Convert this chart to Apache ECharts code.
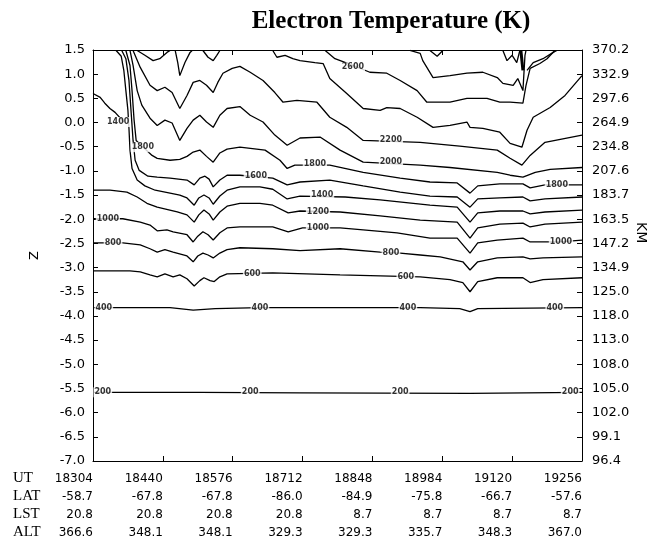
<!DOCTYPE html>
<html><head><meta charset="utf-8">
<script src="https://cdn.jsdelivr.net/npm/echarts@6/dist/echarts.min.js"></script>
<style>html,body{margin:0;padding:0;background:#fff}#c{width:648px;height:554px}</style>
</head><body><div id="c"></div>
<script>
// ---- tick labels / table ----
const utLabels  = ['18304','18440','18576','18712','18848','18984','19120','19256'];
const latLabels = ['-58.7','-67.8','-67.8','-86.0','-84.9','-75.8','-66.7','-57.6'];
const lstLabels = ['20.8','20.8','20.8','20.8','8.7','8.7','8.7','8.7'];
const altLabels = ['366.6','348.1','348.1','329.3','329.3','335.7','348.3','367.0'];
const rowHeads  = ['UT','LAT','LST','ALT'];
const kmLabels  = ['370.2','332.9','297.6','264.9','234.8','207.6','183.7','163.5','147.2','134.9','125.0','118.0','113.0','108.0','105.0','102.0','99.1','96.4'];

// ---- contour lines: [UT, Z] ----
const c200  = [[18304,-5.58],[18512,-5.58],[18707,-5.59],[19038,-5.60],[19256,-5.58]];
const c400  = [[18304,-3.83],[18454,-3.83],[18499,-3.88],[18542,-3.85],[18629,-3.83],[18941,-3.83],[19018,-3.85],[19038,-3.91],[19053,-3.85],[19256,-3.83]];
const c600  = [[18304,-3.07],[18376,-3.07],[18396,-3.09],[18415,-3.15],[18429,-3.19],[18444,-3.13],[18460,-3.19],[18473,-3.15],[18487,-3.23],[18501,-3.38],[18512,-3.27],[18520,-3.21],[18532,-3.27],[18540,-3.29],[18551,-3.19],[18565,-3.13],[18654,-3.11],[18785,-3.15],[18863,-3.17],[18941,-3.19],[18999,-3.25],[19024,-3.31],[19038,-3.50],[19053,-3.29],[19091,-3.21],[19141,-3.21],[19155,-3.31],[19180,-3.25],[19256,-3.21]];
const c800  = [[18304,-2.49],[18362,-2.49],[18396,-2.53],[18415,-2.61],[18429,-2.68],[18444,-2.63],[18460,-2.68],[18487,-2.76],[18499,-2.88],[18508,-2.76],[18518,-2.70],[18528,-2.74],[18538,-2.80],[18551,-2.70],[18565,-2.63],[18590,-2.59],[18654,-2.61],[18707,-2.65],[18785,-2.61],[18863,-2.68],[18902,-2.70],[18941,-2.74],[18980,-2.78],[19024,-2.88],[19038,-3.05],[19053,-2.88],[19091,-2.80],[19141,-2.78],[19155,-2.82],[19180,-2.80],[19256,-2.78]];
const c1000 = [[18304,-1.99],[18362,-1.99],[18396,-2.06],[18415,-2.12],[18429,-2.24],[18448,-2.22],[18460,-2.26],[18487,-2.32],[18499,-2.47],[18508,-2.35],[18518,-2.26],[18528,-2.32],[18538,-2.43],[18551,-2.28],[18565,-2.18],[18590,-2.16],[18654,-2.16],[18684,-2.26],[18712,-2.18],[18785,-2.18],[18830,-2.22],[18896,-2.28],[18960,-2.39],[19013,-2.39],[19038,-2.70],[19053,-2.49],[19091,-2.43],[19141,-2.39],[19155,-2.47],[19213,-2.47],[19256,-2.43]];
const c1200 = [[18304,-1.40],[18337,-1.40],[18370,-1.44],[18390,-1.54],[18409,-1.67],[18429,-1.75],[18468,-1.85],[18487,-1.91],[18501,-2.06],[18510,-1.91],[18520,-1.81],[18530,-1.89],[18538,-2.02],[18551,-1.85],[18565,-1.73],[18590,-1.67],[18629,-1.67],[18654,-1.71],[18684,-1.87],[18707,-1.83],[18785,-1.85],[18863,-1.93],[18941,-2.02],[19013,-2.06],[19038,-2.39],[19053,-2.18],[19096,-2.10],[19141,-2.08],[19155,-2.16],[19184,-2.10],[19256,-2.06]];
const c1400 = [[18349,1.49],[18359,1.37],[18364,1.08],[18368,0.66],[18372,0.25],[18374,-0.12],[18376,-0.57],[18380,-0.95],[18390,-1.19],[18405,-1.31],[18425,-1.40],[18454,-1.46],[18473,-1.50],[18487,-1.56],[18501,-1.71],[18510,-1.56],[18520,-1.50],[18530,-1.56],[18538,-1.69],[18551,-1.52],[18565,-1.40],[18590,-1.33],[18629,-1.33],[18654,-1.38],[18682,-1.58],[18707,-1.52],[18795,-1.54],[18863,-1.60],[18960,-1.71],[19013,-1.75],[19038,-2.06],[19053,-1.87],[19096,-1.83],[19141,-1.83],[19155,-1.89],[19184,-1.85],[19256,-1.81]];
const c1400b = [[18304,0.60],[18318,0.52],[18327,0.40],[18337,0.29],[18347,0.21],[18364,0.01]];
const c1600 = [[18360,1.49],[18368,1.32],[18374,0.87],[18378,0.25],[18382,-0.37],[18386,-0.78],[18394,-0.99],[18411,-1.11],[18429,-1.13],[18454,-1.15],[18487,-1.19],[18501,-1.29],[18512,-1.15],[18522,-1.11],[18530,-1.17],[18538,-1.33],[18551,-1.19],[18565,-1.09],[18590,-1.09],[18654,-1.15],[18682,-1.29],[18707,-1.23],[18765,-1.19],[18830,-1.31],[18902,-1.44],[18960,-1.52],[19013,-1.54],[19038,-1.75],[19053,-1.58],[19096,-1.56],[19141,-1.54],[19155,-1.62],[19184,-1.58],[19256,-1.54]];
const c1800 = [[18368,1.49],[18376,1.18],[18380,0.66],[18384,0.05],[18388,-0.37],[18419,-0.68],[18429,-0.74],[18454,-0.78],[18473,-0.76],[18487,-0.70],[18499,-0.61],[18512,-0.57],[18525,-0.70],[18538,-0.82],[18551,-0.63],[18565,-0.55],[18590,-0.51],[18639,-0.57],[18668,-0.78],[18682,-0.95],[18697,-0.88],[18765,-0.88],[18830,-1.03],[18902,-1.15],[18960,-1.23],[19013,-1.25],[19038,-1.46],[19053,-1.31],[19096,-1.27],[19141,-1.27],[19155,-1.35],[19184,-1.29],[19256,-1.29]];
const c2000 = [[18376,1.49],[18382,1.18],[18390,0.66],[18399,0.36],[18415,0.09],[18429,-0.06],[18444,0.05],[18458,-0.01],[18473,-0.37],[18487,-0.12],[18499,0.05],[18512,0.15],[18525,0.01],[18538,-0.10],[18551,0.15],[18565,0.29],[18590,0.33],[18610,0.15],[18635,0.01],[18658,-0.26],[18682,-0.47],[18707,-0.32],[18746,-0.30],[18785,-0.57],[18830,-0.82],[18941,-0.88],[18999,-0.93],[19091,-1.03],[19116,-1.09],[19141,-1.13],[19165,-1.03],[19194,-0.97],[19256,-0.93]];
const c2200 = [[18382,1.49],[18396,1.14],[18415,0.77],[18429,0.66],[18444,0.73],[18458,0.62],[18473,0.29],[18487,0.56],[18499,0.83],[18512,0.87],[18525,0.77],[18538,0.62],[18547,0.83],[18557,1.02],[18575,1.12],[18590,1.16],[18610,1.04],[18635,0.87],[18658,0.62],[18674,0.42],[18701,0.46],[18740,0.42],[18765,0.11],[18798,-0.10],[18830,-0.37],[18941,-0.41],[19018,-0.49],[19091,-0.57],[19116,-0.74],[19139,-0.88],[19155,-0.68],[19184,-0.41],[19256,-0.26]];
const c2400 = [[18654,1.49],[18662,1.35],[18678,1.39],[18693,1.32],[18707,1.28],[18736,1.24],[18752,1.22],[18765,0.91],[18798,0.60],[18830,0.29],[18863,0.25],[18876,0.31],[18902,0.29],[18935,0.11],[18966,-0.10],[18999,-0.06],[19032,0.01],[19038,-0.10],[19063,-0.12],[19096,-0.20],[19116,-0.43],[19139,-0.51],[19149,-0.16],[19161,0.11],[19194,0.31],[19223,0.56],[19256,0.97]];
const c2400b = [[18390,1.49],[18405,1.39],[18421,1.28],[18434,1.32],[18448,1.45],[18454,1.49]];
const c2400c = [[18464,1.49],[18469,1.24],[18473,0.97],[18483,1.24],[18493,1.45],[18497,1.49]];
const c2400d = [[18518,1.49],[18528,1.35],[18538,1.28],[18545,1.39],[18551,1.49]];
const c2600 = [[18756,1.49],[18775,1.32],[18810,1.18],[18843,1.04],[18876,1.02],[18902,0.87],[18935,0.66],[18954,0.42],[18999,0.42],[19032,0.50],[19071,0.50],[19096,0.42],[19116,0.42],[19141,0.40],[19147,0.77],[19155,1.12],[19174,1.22],[19188,1.32],[19203,1.49]];
const c2800 = [[18921,1.49],[18941,1.43],[18946,1.28],[18966,0.93],[18999,0.97],[19032,1.02],[19063,1.04],[19091,0.93],[19102,0.81],[19122,0.77],[19131,0.91],[19141,0.66],[19145,1.39],[19147,1.49]];
const c2800b = [[19149,1.08],[19161,1.24],[19180,1.32],[19200,1.45],[19207,1.49]];
const c3000a = [[18960,1.49],[18974,1.37],[18985,1.49]];
const c3000b = [[19102,1.49],[19110,1.28],[19120,1.39],[19129,1.24],[19135,1.49]];
const spike  = [[19137,1.49],[19141,1.08]];

// ---- contour labels: [UT, Z, text] ----
const contourLabels = [
  [18353,0.01,'1400'],[18401,-0.51,'1800'],[18621,-1.11,'1600'],[18736,-0.86,'1800'],
  [18750,-1.50,'1400'],[18742,-1.85,'1200'],[18742,-2.18,'1000'],[18333,-1.99,'1000'],
  [18343,-2.49,'800'],[18614,-3.13,'600'],[18884,-2.70,'800'],[18913,-3.19,'600'],
  [18325,-3.83,'400'],[18629,-3.83,'400'],[18917,-3.83,'400'],[19203,-3.83,'400'],
  [18323,-5.58,'200'],[18610,-5.58,'200'],[18902,-5.58,'200'],[19233,-5.58,'200'],
  [18810,1.14,'2600'],[18884,-0.37,'2200'],[18884,-0.82,'2000'],[19207,-1.29,'1800'],
  [19215,-2.47,'1000']
];

const curves = [c200,c400,c600,c800,c1000,c1200,c1400,c1400b,c1600,c1800,c2000,c2200,c2400,c2400b,c2400c,c2400d,c2600,c2800,c2800b,c3000a,c3000b];

const chart = echarts.init(document.getElementById('c'), null, {renderer:'canvas'});
const axFont = {fontFamily:'DejaVu Sans', fontSize:12, color:'#000'};
const series = curves.map(d => ({
  type:'line', data:d, showSymbol:false, symbol:'none', silent:true,
  lineStyle:{color:'#000', width:1.3}, animation:false, z:2
}));
series.push({type:'line', data:spike, showSymbol:false, symbol:'none', silent:true, lineStyle:{color:'#000', width:3}, animation:false, z:2});
series.push({
  type:'scatter', data:contourLabels, symbolSize:1, itemStyle:{color:'rgba(0,0,0,0)'}, silent:true, z:10, animation:false,
  label:{show:true, position:'inside', formatter:p=>p.data[2], fontFamily:'DejaVu Sans', fontWeight:'bold', fontSize:8,
         color:'#000', backgroundColor:'#fff', padding:[1,1]}
});

const tickStyle = {show:true, inside:true, length:5, lineStyle:{color:'#000', width:1}};
const lineStyleAx = {show:true, onZero:false, lineStyle:{color:'#000', width:1}};
chart.setOption({
  animation:false,
  backgroundColor:'#fff',
  title:{text:'Electron Temperature (K)', left:386, top:4, textAlign:'center',
         textStyle:{fontFamily:'Liberation Serif', fontWeight:'bold', fontSize:25, color:'#000'}},
  grid:{left:93, right:66, top:50, bottom:93},
  xAxis:[
    {type:'value', min:18304, max:19256, interval:136, position:'bottom',
     axisLine:lineStyleAx, axisTick:tickStyle, splitLine:{show:false},
     axisLabel:{show:true, align:'right', margin:9, lineHeight:18, hideOverlap:false, showMinLabel:true, showMaxLabel:true,
       ...axFont,
       formatter:v=>{const i=Math.round((v-18304)/136); return [utLabels[i],latLabels[i],lstLabels[i],altLabels[i]].join('\n');}}},
    {type:'value', min:18304, max:19256, interval:136, position:'top',
     axisLine:lineStyleAx, axisTick:tickStyle, splitLine:{show:false}, axisLabel:{show:false}}
  ],
  yAxis:[
    {type:'value', min:-7, max:1.5, interval:0.5, position:'left',
     name:'Z', nameLocation:'middle', nameGap:52, nameRotate:90, nameTextStyle:{fontFamily:'DejaVu Sans', fontSize:13, color:'#000'},
     axisLine:lineStyleAx, axisTick:tickStyle, splitLine:{show:false},
     axisLabel:{...axFont, fontSize:13, margin:8, formatter:v=>v.toFixed(1)}},
    {type:'value', min:-7, max:1.5, interval:0.5, position:'right',
     axisLine:lineStyleAx, axisTick:tickStyle, splitLine:{show:false},
     axisLabel:{...axFont, fontSize:13, margin:10, formatter:v=>kmLabels[Math.round((1.5-v)/0.5)]}}
  ],
  graphic:[
    ...rowHeads.map((t,i)=>({type:'text', left:13, top:471+i*18, style:{text:t, font:'15px "Liberation Serif"', fill:'#000'}})),
    {type:'text', x:641, y:222, rotation:-Math.PI/2, style:{text:'KM', font:'14px "DejaVu Sans"', fill:'#000', textAlign:'left', textVerticalAlign:'middle'}}
  ],
  series
});
</script></body></html>
